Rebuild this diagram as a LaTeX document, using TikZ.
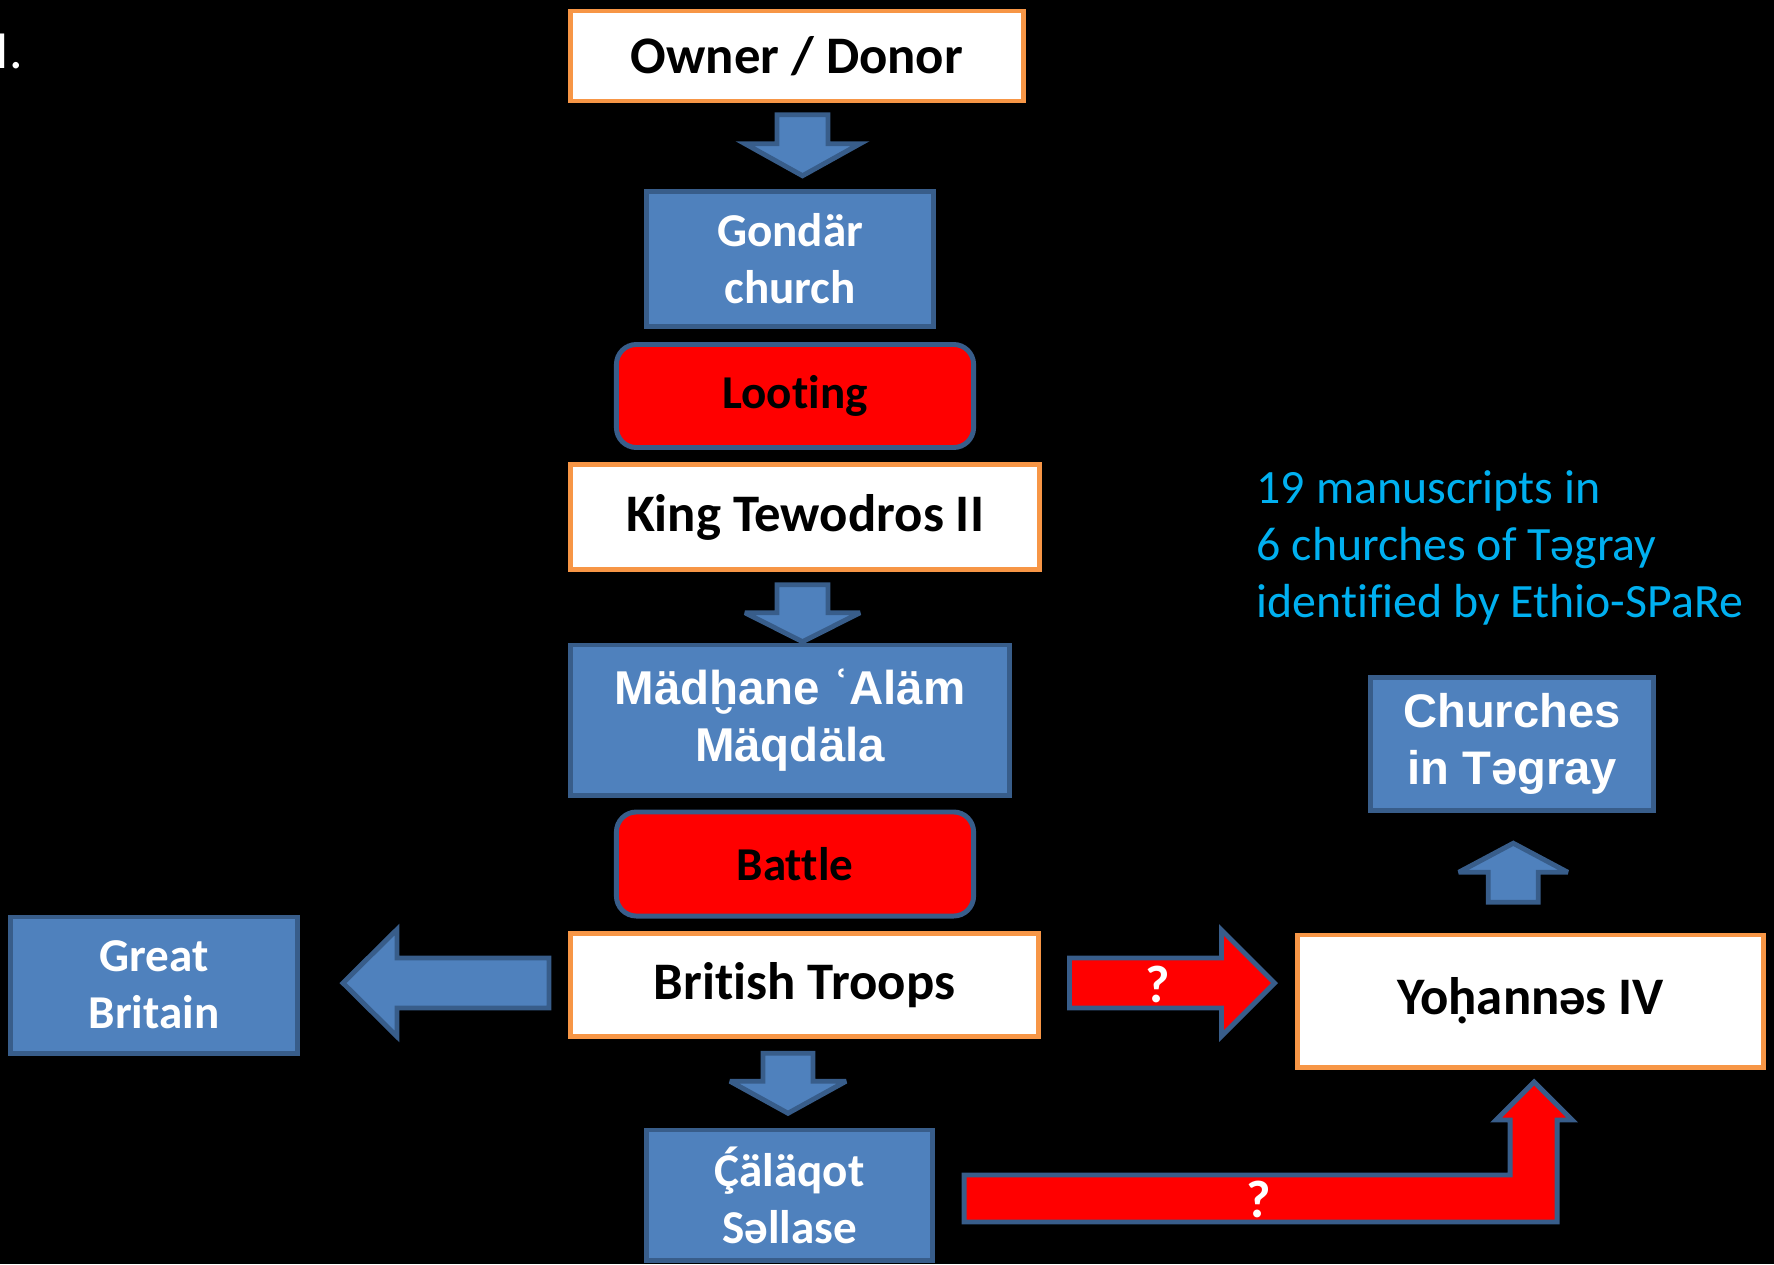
\documentclass[tikz,border=0pt]{standalone}
\usepackage{fontspec}
\setmainfont{Carlito}[Ligatures=NoCommon]
\newfontfamily\arialfont{Liberation Sans}
\usetikzlibrary{calc}
\definecolor{boxblue}{HTML}{4F81BD}
\definecolor{edgeblue}{HTML}{385D8A}
\definecolor{edgeorange}{HTML}{F79646}
\definecolor{noteblue}{HTML}{00B0F0}
\tikzset{
	pics/blockarrow/.style n args={4}{code={
		\filldraw (-#1/2,-#2/2) -- (#1/2-#4,-#2/2) -- (#1/2-#4,-#3/2) -- (#1/2,0)
			-- (#1/2-#4,#3/2) -- (#1/2-#4,#2/2) -- (-#1/2,#2/2) -- cycle;
	}},
}
\begin{document}
\begin{tikzpicture}[x=0.01cm, y=-0.01cm,
		whitebox/.style={draw=edgeorange, fill=white, line width=1.4pt, inner sep=0pt, text=black,
			font=\fontsize{15}{18}\selectfont\bfseries},
		bluebox/.style={draw=edgeblue, fill=boxblue, line width=1.4pt, inner sep=0pt, text=white, align=center,
			font=\fontsize{13.4}{16.2}\selectfont\bfseries},
		redbox/.style={draw=edgeblue, fill=red, line width=1.4pt, rounded corners=0.2cm, inner sep=0pt, text=black,
			font=\fontsize{13.4}{16.2}\selectfont\bfseries},
		bluearrow/.style={draw=edgeblue, fill=boxblue, line width=1.4pt, miter limit=4},
		redarrow/.style={draw=edgeblue, fill=red, line width=1.4pt, miter limit=4},
		qmark/.style={text=white, inner sep=0pt, font=\fontsize{15}{18}\selectfont\bfseries}]
		\useasboundingbox (0,0) rectangle (1774,1264);
		\fill [black] (0,0) rectangle (1774,1264);
		\node [anchor=base west, inner sep=0pt, text=white, font=\fontsize{15.3}{18}\selectfont] (num) at (-5,69) {I.};
		% Colonna centrale
		\node [whitebox, minimum width=4.53cm, minimum height=0.90cm] (owner) at (797,56) {Owner / Donor};
		\node [bluebox, minimum width=2.87cm, minimum height=1.35cm] (gondar) at (790,259) {Gondär\\church};
		\node [redbox, minimum width=3.57cm, minimum height=1.03cm] (loot) at (795,396) {Looting};
		\node [whitebox, minimum width=4.69cm, minimum height=1.05cm] (king) at (805,517) {King Tewodros II};
		\node [bluebox, minimum width=4.39cm, minimum height=1.50cm, font=\fontsize{13.5}{16.2}\selectfont\arialfont\bfseries] (madhane) at (790,720) {Mädḫane ʿAläm\\Mäqdäla};
		\node [redbox, minimum width=3.57cm, minimum height=1.04cm] (battle) at (795,864) {Battle};
		\node [whitebox, minimum width=4.68cm, minimum height=1.03cm] (troops) at (804.5,985) {British Troops};
		\node [bluebox, minimum width=2.86cm, minimum height=1.30cm] (calaqot) at (789.5,1195) {Ḉäläqot\\Səllase};
		% Lati
		\node [bluebox, minimum width=2.87cm, minimum height=1.36cm] (britain) at (154,985) {Great\\Britain};
		\node [whitebox, minimum width=4.66cm, minimum height=1.32cm] (yoh) at (1530.5,1001) {Yoḥannəs IV};
		\node [bluebox, minimum width=2.83cm, minimum height=1.33cm, font=\fontsize{13.4}{16.2}\selectfont\arialfont\bfseries] (churches) at (1512,744) {Churches\\in Təgray};
		\node [anchor=base west, inner sep=0pt, align=left, text=noteblue, font=\fontsize{13.6}{16.2}\selectfont] (note) at (1256,617) {19 manuscripts in\\6 churches of Təgray\\identified by Ethio-SPaRe};
		% Frecce
		\pic [bluearrow, rotate=-90] at ($(owner.south)!.5!(gondar.north)+(9,-1)$) {blockarrow={61}{51}{115}{32}};
		\pic [bluearrow, rotate=-90] at ($(king.south)!.5!(madhane.north)+(5,6)$) {blockarrow={57}{51}{115}{29}};
		\pic [bluearrow, rotate=-90] at ($(troops.south)!.5!(calaqot.north)+(-9,0)$) {blockarrow={60}{50}{116}{32}};
		\pic [bluearrow, rotate=180] at ($(britain.east)!.5!(troops.west)+(12,-2)$) {blockarrow={206}{50}{107}{54}};
		\pic [redarrow] at ($(troops.east)!.5!(yoh.west)+(4,-10)$) {blockarrow={205}{50}{106}{53}};
		\pic [bluearrow, rotate=90] at ($(churches.south)!.5!(yoh.north)+(-8,0)$) {blockarrow={59}{50}{109}{29}};
		\filldraw [redarrow] ($(calaqot.east)+(29,-20)$) -- ++(546,0) -- ++(0,-55) -- ++(-14,0) -- ++(38,-38)
			-- ++(38,38) -- ++(-15,0) -- ++(0,102) -- ++(-593,0) -- cycle;
		% Domande
		\node [qmark] (q1) at (1158,984) {?};
		\node [qmark] (q2) at (1259,1199) {?};
	\end{tikzpicture}
\end{document}
